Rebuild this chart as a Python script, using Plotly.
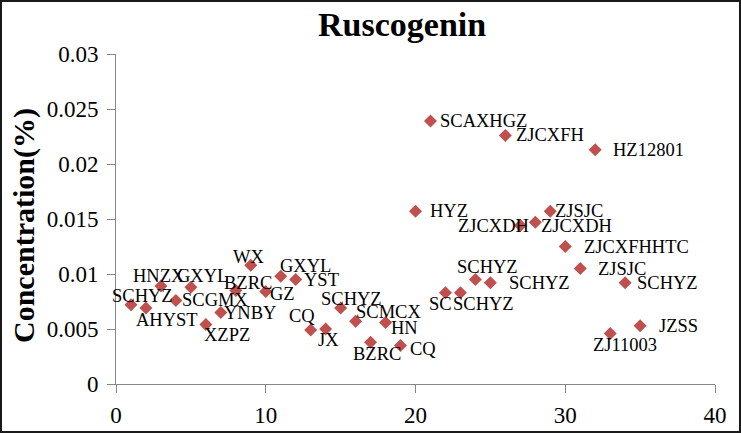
import plotly.graph_objects as go

# ---- data ----
sample_no = list(range(1, 36))
concentration = [0.0072, 0.0069, 0.0089, 0.0076, 0.0088, 0.0054, 0.0065, 0.0085,
                 0.0108, 0.0084, 0.0098, 0.0095, 0.0049, 0.0050, 0.0069, 0.0057,
                 0.0038, 0.0056, 0.0035, 0.0157, 0.0239, 0.0083, 0.0083, 0.0095,
                 0.0092, 0.0226, 0.0144, 0.0147, 0.0157, 0.0125, 0.0105, 0.0213,
                 0.0046, 0.0092, 0.0053]
sample_names = ["SCHYZ", "AHYST", "HNZX", "SCGMX", "GXYL", "XZPZ", "YNBY", "BZRC",
                "WX", "GZ", "GXYL", "YST", "CQ", "JX", "SCHYZ", "SCMCX",
                "BZRC", "HN", "CQ", "HYZ", "SCAXHGZ", "SC", "SCHYZ", "SCHYZ",
                "SCHYZ", "ZJCXFH", "ZJCXDH", "ZJCXDH", "ZJSJC", "ZJCXFHHTC", "ZJSJC", "HZ12801",
                "ZJ11003", "SCHYZ", "JZSS"]
x_ticks = [0, 10, 20, 30, 40]
x_tick_labels = ["0", "10", "20", "30", "40"]
y_ticks = [0, 0.005, 0.01, 0.015, 0.02, 0.025, 0.03]
y_tick_labels = ["0", "0.005", "0.01", "0.015", "0.02", "0.025", "0.03"]
title_text = "Ruscogenin"
y_title = "Concentration(%)"

# ---- label placement (pixel offsets of label centre from point: dx right, dy down) ----
label_dx = [12, 21, -2, 39, 12, 21, 29, 12, -2, 17, 25, 26, -9, 3, 11, 33,
            6, 19, 22, 33, 53, -5, 23, 12, 49, 45, -27, 41, 29, 71, 42, 53,
            15, 42, 38]
label_dy = [-9, 12, -10, 0, -11, 10, 0, -8, -8, 2, -10, 0, -14, 11, -9, -9,
            12, 6, 3, 0, 0, 11, 11, -13, 0, 0, 0, 4, 0, 0, 0, 0,
            12, 0, 0]

# visible frame is 741 x 433; the figure canvas is a bit taller (bottom strip unseen)
W, H = 741, 450
VIS_H = 433
ML, MR, MT = 116, 26, 54
MB = H - 384
PW, PH = W - ML - MR, H - MT - MB

FONT = "Liberation Serif, Times New Roman, serif"
AXIS_GRAY = "#868686"


def py(px):
    """paper y for a pixel row measured from the top"""
    return (H - MB - px) / PH


def pxx(px):
    """paper x for a pixel column"""
    return (px - ML) / PW


fig = go.Figure()
fig.add_trace(go.Scatter(
    x=sample_no, y=concentration, mode="markers",
    marker=dict(symbol="diamond", size=10, color="#C0504D", line=dict(width=0)),
    hoverinfo="x+y", showlegend=False,
))

annotations = []
for xv, yv, name, dx, dy in zip(sample_no, concentration, sample_names, label_dx, label_dy):
    annotations.append(dict(
        x=xv, y=yv, xref="x", yref="y", text=name, showarrow=False,
        xanchor="center", yanchor="middle", xshift=dx, yshift=-dy,
        font=dict(family=FONT, size=18.5, color="black"),
    ))

# title
annotations.append(dict(
    x=pxx(401.5), y=py(24), xref="paper", yref="paper",
    text="<b>" + title_text + "</b>", showarrow=False,
    xanchor="center", yanchor="middle",
    font=dict(family=FONT, size=34, color="black"),
))
# y axis title
annotations.append(dict(
    x=pxx(24), y=py(226), xref="paper", yref="paper",
    text="<b>" + y_title + "</b>", showarrow=False, textangle=-90,
    xanchor="center", yanchor="middle",
    font=dict(family=FONT, size=30, color="black"),
))

fig.update_layout(
    width=W, height=H, autosize=False,
    margin=dict(l=ML, r=MR, t=MT, b=MB, pad=0),
    paper_bgcolor="white", plot_bgcolor="white",
    showlegend=False,
    annotations=annotations,
    xaxis=dict(
        range=[0, 40], tickvals=x_ticks, ticktext=x_tick_labels,
        showgrid=False, zeroline=False, showline=True, linecolor=AXIS_GRAY, linewidth=1,
        ticks="outside", ticklen=8, tickcolor=AXIS_GRAY, tickwidth=1,
        tickfont=dict(family=FONT, size=23, color="black"),
        ticklabelstandoff=2,
    ),
    yaxis=dict(
        range=[0, 0.03], tickvals=y_ticks, ticktext=y_tick_labels,
        showgrid=False, zeroline=False, showline=True, linecolor=AXIS_GRAY, linewidth=1,
        ticks="outside", ticklen=8, tickcolor=AXIS_GRAY, tickwidth=1,
        tickfont=dict(family=FONT, size=23, color="black"),
        ticklabelstandoff=4,
    ),
    shapes=[dict(
        type="rect", xref="paper", yref="paper",
        x0=pxx(1), x1=pxx(W - 1),
        y0=py(VIS_H - 1), y1=py(1),
        line=dict(color="#1a1a1a", width=2), fillcolor="rgba(0,0,0,0)",
        layer="above",
    )],
)

page_fix = (
    "document.documentElement.style.margin='0';"
    "document.documentElement.style.padding='0';"
    "document.documentElement.style.overflow='hidden';"
    "document.body.style.margin='0';"
    "document.body.style.padding='0';"
    "document.body.style.overflow='hidden';"
    "var gd=document.getElementsByClassName('plotly-graph-div')[0];"
    "if(gd){gd.style.position='absolute';gd.style.left='0px';gd.style.top='0px';}"
)

fig.write_html(
    "out.html",
    config={"displayModeBar": False},
    post_script=page_fix,
)
